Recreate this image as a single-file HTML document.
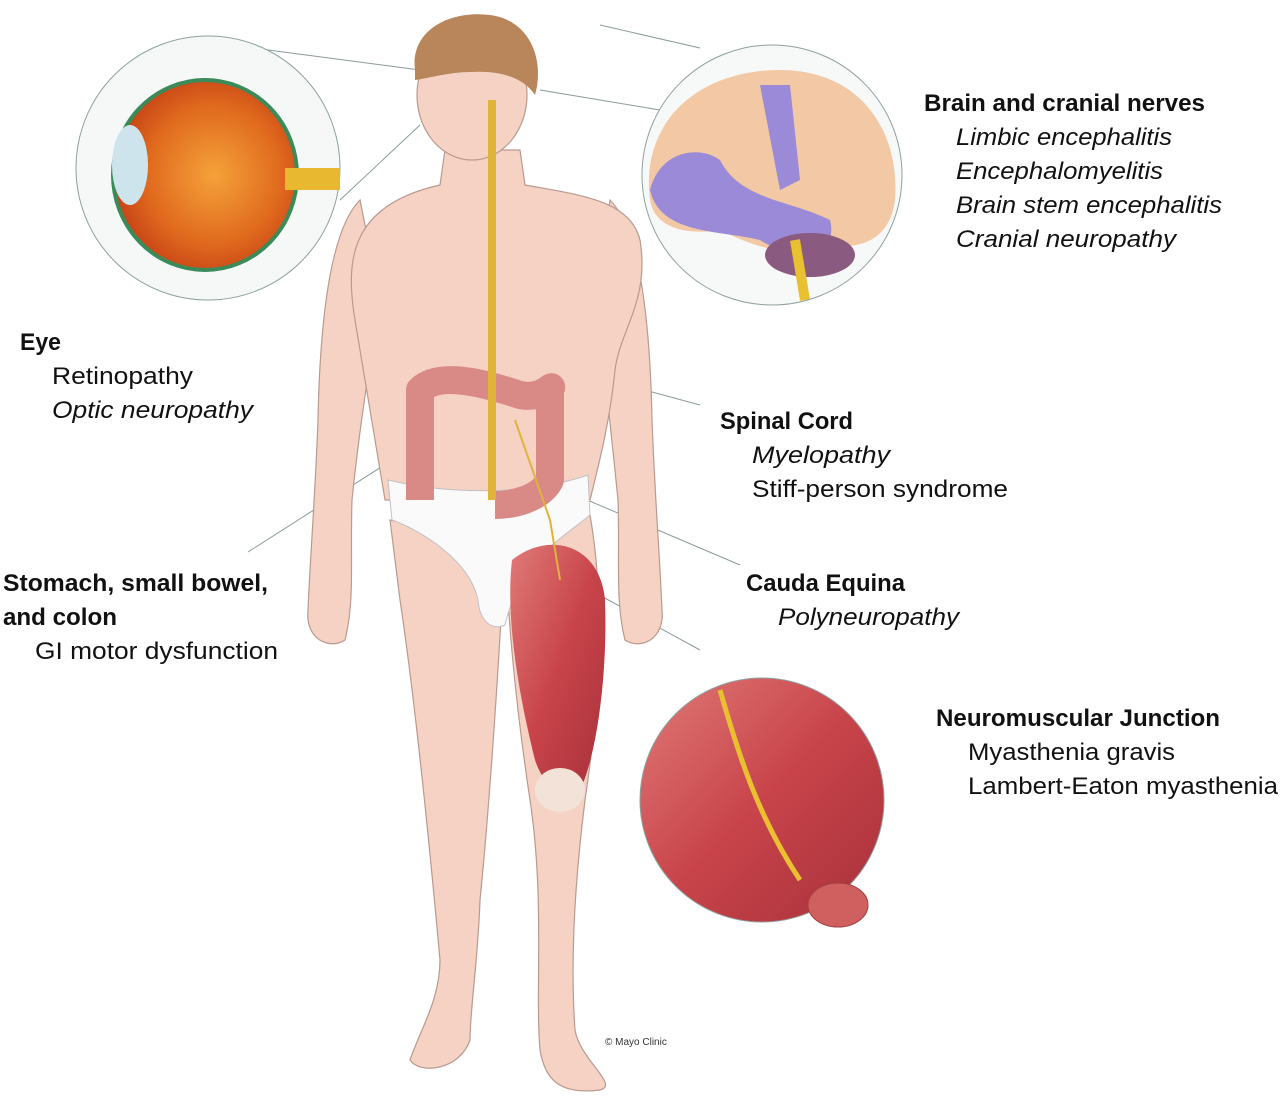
<!DOCTYPE html>
<html><head><meta charset="utf-8"><style>
body{margin:0;background:#fff;}
.t{font-family:"Liberation Sans",sans-serif;font-size:24px;fill:#111;}
.b{font-weight:bold;}
.i{font-style:italic;}
</style></head><body>
<svg width="1280" height="1112" viewBox="0 0 1280 1112" xmlns="http://www.w3.org/2000/svg">
<defs>
<radialGradient id="eye" cx="0.55" cy="0.5" r="0.6"><stop offset="0" stop-color="#f5a23a"/><stop offset="0.6" stop-color="#e06a1e"/><stop offset="1" stop-color="#c23a14"/></radialGradient>
<linearGradient id="mus" x1="0" y1="0" x2="1" y2="1"><stop offset="0" stop-color="#e07a78"/><stop offset="0.5" stop-color="#c8444a"/><stop offset="1" stop-color="#a8303a"/></linearGradient>
</defs>
<g stroke="#8a9a9a" stroke-width="1" fill="none">
<path d="M230 45 L420 70"/><path d="M600 25 L700 48"/>
<path d="M420 125 L340 200"/><path d="M540 90 L660 110"/>
<path d="M505 352 L700 405"/><path d="M400 455 L248 552"/>
<path d="M505 465 L740 565"/><path d="M590 590 L700 650"/>
</g>
<g fill="#f6d2c4" stroke="#b89a90" stroke-width="1.2">
<path d="M360 200 C330 230 320 320 318 420 C315 500 310 560 308 610 C305 640 330 650 345 640 C355 600 350 560 352 500 C360 420 375 330 380 300 Z"/>
<path d="M610 200 C640 230 650 320 652 420 C655 500 660 560 662 610 C665 640 640 650 625 640 C615 600 620 560 618 500 C610 420 600 330 595 300 Z"/>
<path d="M390 520 L505 540 C500 650 490 800 480 900 C478 960 470 1010 470 1040 C460 1070 420 1075 410 1060 C420 1030 440 1000 440 960 C430 850 415 700 400 600 Z"/>
<path d="M505 540 L590 515 C605 600 600 700 585 800 C575 880 570 960 575 1030 C580 1060 620 1085 600 1090 C560 1095 545 1080 540 1050 C535 990 545 900 530 800 C515 700 508 620 505 540 Z"/>
<path d="M445 150 L520 150 L525 185 C580 195 630 200 640 240 C650 300 620 330 615 370 C610 420 600 460 590 500 L385 500 C375 440 365 380 355 320 C345 260 350 205 440 185 Z"/>
<ellipse cx="472" cy="95" rx="55" ry="65"/>
</g>
<path d="M415 70 C410 30 450 10 490 15 C530 20 545 60 535 95 C525 80 505 70 470 72 C450 72 430 78 415 80 Z" fill="#b8865a"/>
<path d="M388 480 C450 495 530 495 588 475 L590 515 C560 540 520 560 505 625 C495 630 480 625 478 600 C470 560 420 530 392 520 Z" fill="#fbfafa" stroke="#c0c0c8"/>
<path d="M512 560 C550 530 600 545 605 600 C608 680 595 760 580 790 C565 800 545 790 535 760 C520 700 505 620 512 560 Z" fill="url(#mus)"/>
<ellipse cx="560" cy="790" rx="25" ry="22" fill="#f2e2d8"/>
<path d="M420 500 L420 390 C440 370 490 385 520 395 C545 400 555 380 550 390 L550 480 C540 500 510 505 495 505" fill="none" stroke="#d98a86" stroke-width="28" stroke-linejoin="round"/>
<path d="M492 100 L492 500" stroke="#e0b43a" stroke-width="8"/>
<path d="M515 420 L550 520 L560 580" stroke="#e0b43a" stroke-width="2" fill="none"/>
<circle cx="208" cy="168" r="132" fill="#f6f8f8" stroke="#8fa0a0"/>
<ellipse cx="205" cy="175" rx="92" ry="95" fill="url(#eye)" stroke="#3a8a5a" stroke-width="4"/>
<ellipse cx="130" cy="165" rx="18" ry="40" fill="#cde4ec"/>
<rect x="285" y="168" width="55" height="22" fill="#e8b830"/>
<circle cx="772" cy="175" r="130" fill="#f7f8f8" stroke="#8fa0a0"/>
<path d="M650 200 C640 120 700 70 780 70 C860 70 900 130 895 200 C890 240 860 250 830 245 C800 260 760 250 720 230 C690 235 655 230 650 200 Z" fill="#f2c9a4"/>
<path d="M650 190 C660 150 700 145 720 160 C740 200 790 200 830 220 C840 260 790 260 760 240 C720 230 660 235 650 190 Z" fill="#9a8ad8"/>
<path d="M760 85 L790 85 L800 180 L780 190 Z" fill="#9a8ad8"/>
<ellipse cx="810" cy="255" rx="45" ry="22" fill="#8a5a80"/>
<path d="M795 240 L805 300" stroke="#e8c030" stroke-width="10"/>
<circle cx="762" cy="800" r="122" fill="url(#mus)" stroke="#8fa0a0"/>
<path d="M720 690 C740 760 760 820 800 880" stroke="#e8c030" stroke-width="5" fill="none"/>
<ellipse cx="838" cy="905" rx="30" ry="22" fill="#d06060" stroke="#a04040"/>
<text x="605" y="1045" font-family="Liberation Sans,sans-serif" font-size="10" fill="#333">© Mayo Clinic</text>
<g lengthAdjust="spacingAndGlyphs">
<text class="t b" x="924" y="111" textLength="281" lengthAdjust="spacingAndGlyphs">Brain and cranial nerves</text>
<text class="t i" x="956" y="145" textLength="216" lengthAdjust="spacingAndGlyphs">Limbic encephalitis</text>
<text class="t i" x="956" y="179" textLength="207" lengthAdjust="spacingAndGlyphs">Encephalomyelitis</text>
<text class="t i" x="956" y="213" textLength="266" lengthAdjust="spacingAndGlyphs">Brain stem encephalitis</text>
<text class="t i" x="956" y="247" textLength="220" lengthAdjust="spacingAndGlyphs">Cranial neuropathy</text>
<text class="t b" x="20" y="350" textLength="41" lengthAdjust="spacingAndGlyphs">Eye</text>
<text class="t" x="52" y="384" textLength="141" lengthAdjust="spacingAndGlyphs">Retinopathy</text>
<text class="t i" x="52" y="418" textLength="201" lengthAdjust="spacingAndGlyphs">Optic neuropathy</text>
<text class="t b" x="720" y="429" textLength="133" lengthAdjust="spacingAndGlyphs">Spinal Cord</text>
<text class="t i" x="752" y="463" textLength="138" lengthAdjust="spacingAndGlyphs">Myelopathy</text>
<text class="t" x="752" y="497" textLength="256" lengthAdjust="spacingAndGlyphs">Stiff-person syndrome</text>
<text class="t b" x="746" y="591" textLength="159" lengthAdjust="spacingAndGlyphs">Cauda Equina</text>
<text class="t i" x="778" y="625" textLength="181" lengthAdjust="spacingAndGlyphs">Polyneuropathy</text>
<text class="t b" x="3" y="591" textLength="265" lengthAdjust="spacingAndGlyphs">Stomach, small bowel,</text>
<text class="t b" x="3" y="625" textLength="114" lengthAdjust="spacingAndGlyphs">and colon</text>
<text class="t" x="35" y="659" textLength="243" lengthAdjust="spacingAndGlyphs">GI motor dysfunction</text>
<text class="t b" x="936" y="726" textLength="284" lengthAdjust="spacingAndGlyphs">Neuromuscular Junction</text>
<text class="t" x="968" y="760" textLength="207" lengthAdjust="spacingAndGlyphs">Myasthenia gravis</text>
<text class="t" x="968" y="794" textLength="310" lengthAdjust="spacingAndGlyphs">Lambert-Eaton myasthenia</text>
</g>
</svg>
</body></html>
